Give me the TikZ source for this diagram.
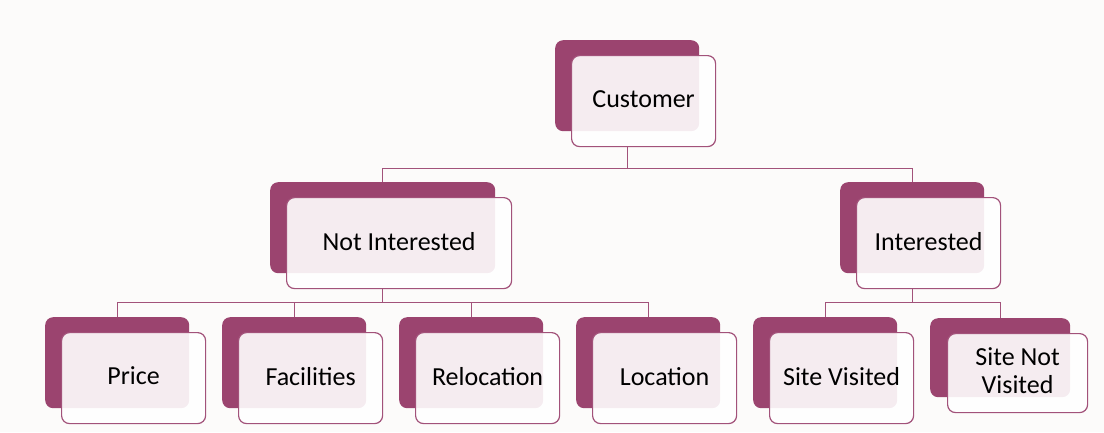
\documentclass[tikz,border=0pt]{standalone}
\usepackage{fontspec}
\setmainfont{Carlito}
\usetikzlibrary{calc}
\definecolor{bgc}{HTML}{FCFBFA}
\definecolor{plum}{HTML}{9B446F}
\definecolor{plumline}{HTML}{A2527A}
\tikzset{
  back/.style={rectangle, rounded corners=8pt, fill=plum, draw=none, anchor=north west, inner sep=0pt},
  front/.style={rectangle, rounded corners=8pt, fill=white, fill opacity=0.9, draw=plumline, line width=1.2pt, anchor=north west, inner sep=0pt},
  label text/.style={inner sep=0pt, align=center, font=\fontsize{26}{28}\selectfont, text=black},
  conn/.style={draw=plumline, line width=1pt},
}
\newcommand{\boxpair}[7]{% name, x, y, w, h, dx, text
  \node[back, minimum width=#4pt, minimum height=#5pt] (#1d) at (#2,#3) {};
  \node[front, minimum width=#4pt, minimum height=#5pt] (#1f) at ($(#1d.north west)+(#6,15)$) {};
  \node[label text] (#1t) at ($(#1f.center)+(0,-2)$) {#7};
}
\begin{document}
\begin{tikzpicture}[x=1pt,y=-1pt]
\fill[bgc] (0,0) rectangle (1104,432);
\useasboundingbox (0,0) rectangle (1104,432);
\coordinate (m1) at (0,168);
\coordinate (m2) at (0,302);
\boxpair{cust}{555}{40}{144}{91}{16}{Customer}
\boxpair{ni}{270}{182}{225}{91}{16}{Not Interested}
\boxpair{in}{840}{182}{144}{91}{16}{Interested}
\boxpair{pr}{45}{317}{144}{91}{16}{Price}
\boxpair{fa}{222}{317}{144}{91}{16}{Facilities}
\boxpair{re}{399}{317}{144}{91}{16}{Relocation}
\boxpair{lo}{576}{317}{144}{91}{16}{Location}
\boxpair{sv}{753}{317}{144}{91}{16}{Site Visited}
\boxpair{sn}{930}{318}{140}{79}{17}{Site Not\\Visited}
\draw[conn] (custd.center |- custf.south) -- (custd.center |- m1) -| (nid.north);
\draw[conn] (custd.center |- m1) -| (ind.north);
\draw[conn] (nid.center |- nif.south) -- (nid.center |- m2) -| (prd.north);
\draw[conn] (nid.center |- m2) -| (fad.north);
\draw[conn] (nid.center |- m2) -| (red.north);
\draw[conn] (nid.center |- m2) -| (lod.north);
\draw[conn] (ind.center |- inf.south) -- (ind.center |- m2) -| (svd.north);
\draw[conn] (ind.center |- m2) -| (snd.north);
\end{tikzpicture}
\end{document}
